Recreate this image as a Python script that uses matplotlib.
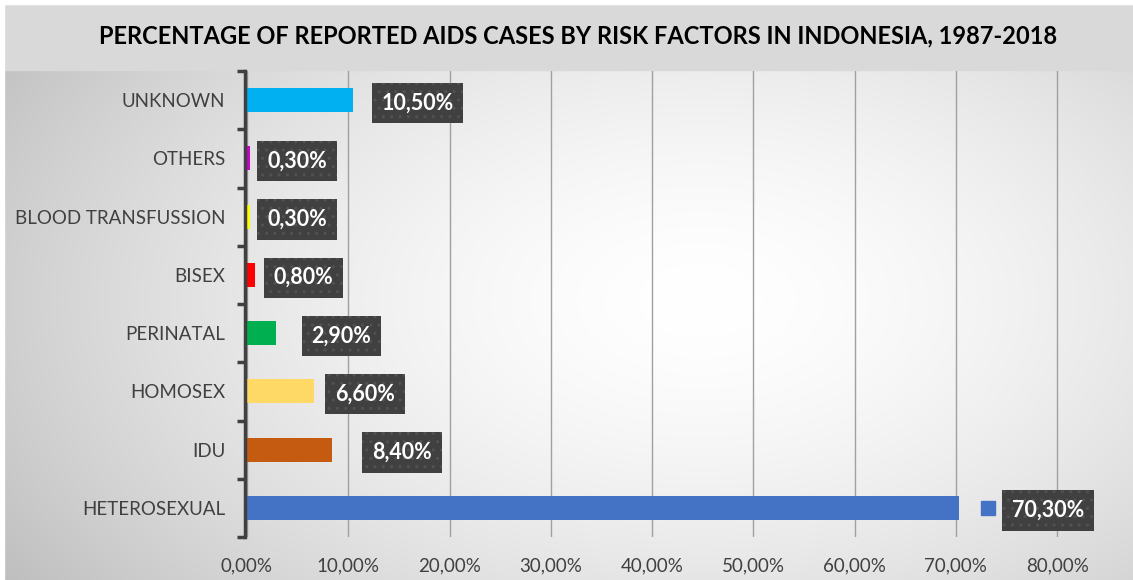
import numpy as np
import matplotlib
matplotlib.use("Agg")
import matplotlib.pyplot as plt
import matplotlib.transforms as mtransforms
from matplotlib.patches import Rectangle

plt.rcParams['font.family'] = ['Lato', 'DejaVu Sans']

# data (bottom to top)
categories = ['HETEROSEXUAL', 'IDU', 'HOMOSEX', 'PERINATAL', 'BISEX',
              'BLOOD TRANSFUSSION', 'OTHERS', 'UNKNOWN']
values = [70.3, 8.4, 6.6, 2.9, 0.8, 0.3, 0.3, 10.5]
labels = ['70,30%', '8,40%', '6,60%', '2,90%', '0,80%', '0,30%', '0,30%', '10,50%']
xticks = [0, 10, 20, 30, 40, 50, 60, 70, 80]
xticklabels = ['0,00%', '10,00%', '20,00%', '30,00%', '40,00%', '50,00%',
               '60,00%', '70,00%', '80,00%']

colors = ['#4472c4', '#c55a11', '#ffd966', '#00b050', '#ff0000',
          '#ffff00', '#cc00cc', '#00b0f0']
label_gap_px = [42, 29, 10, 24, 7, 6, 6, 17]

fig = plt.figure(figsize=(11.33, 5.8), dpi=100)
fig.patch.set_facecolor('white')

# background: radial gradient + title band
bg = fig.add_axes([0, 0, 1, 1], zorder=-10)
yy, xx = np.mgrid[0:580, 0:1133]
r = np.sqrt(((xx - 700) / 700.0) ** 2 + ((yy - 300) / 420.0) ** 2)
shade = 1.0 - 0.19 * np.clip(r, 0, 1.3) ** 1.6
img = np.dstack([shade, shade, shade])
bg.imshow(img, extent=[0, 1133, 580, 0], aspect='auto')
bg.add_patch(Rectangle((4, 4), 1129, 66, color='#d9d9d9'))
bg.add_patch(Rectangle((0, 0), 4, 580, color='white'))
bg.add_patch(Rectangle((0, 0), 1133, 4, color='white'))
bg.set_xlim(0, 1133)
bg.set_ylim(580, 0)
bg.axis('off')

fig.text(0.51, 0.938, 'PERCENTAGE OF REPORTED AIDS CASES BY RISK FACTORS IN INDONESIA, 1987-2018',
         ha='center', va='center', fontsize=17, fontweight='bold', color='black')

ax = fig.add_axes([0.218, 0.0741, 0.7705, 0.8034])
ax.set_facecolor('none')
for s in ['top', 'right', 'bottom']:
    ax.spines[s].set_visible(False)
ax.spines['left'].set_position(('outward', 1.5))
ax.spines['left'].set_color('#404040')
ax.spines['left'].set_linewidth(2.5)
ax.spines['left'].set_zorder(4)

ypos = np.arange(len(categories))
ax.barh(ypos, values, height=0.41, color=colors, zorder=3)

ax.set_xlim(0, 86.2)
ax.set_ylim(-0.5, len(categories) - 0.5)
ax.set_xticks(xticks)
ax.set_xticklabels(xticklabels, fontsize=13.5, color='#404040')
ax.tick_params(axis='x', length=0, pad=15)
ax.set_yticks(ypos)
ax.set_yticklabels(categories, fontsize=13.5, color='#404040')
ax.tick_params(axis='y', which='major', length=0, pad=14)
ax.set_yticks(np.arange(-0.5, len(categories)), minor=True)
ax.tick_params(axis='y', which='minor', length=6, width=2.5, color='#404040', direction='out')
ax.grid(axis='x', color='#a0a0a0', lw=1, zorder=0)

# data labels
for i, (v, lab, gap) in enumerate(zip(values, labels, label_gap_px)):
    ax.annotate(lab, xy=(v, i), xytext=(gap * 0.72 + 8, -2), textcoords='offset points',
                ha='left', va='center', fontsize=15.5, fontweight='bold', color='white',
                bbox=dict(boxstyle='square,pad=0.45', facecolor='#404040',
                          edgecolor='#525252', hatch='..', lw=0), zorder=6)

# legend key next to heterosexual label
tr = mtransforms.offset_copy(ax.transData, fig=fig, x=29 * 0.72, y=0, units='points')
ax.plot([values[0]], [0], marker='s', markersize=10, color=colors[0], transform=tr,
        clip_on=False, zorder=6)

fig.savefig('out.png', dpi=100)
